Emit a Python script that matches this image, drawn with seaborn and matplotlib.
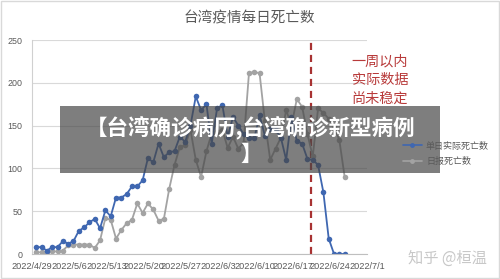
import numpy as np
import pandas as pd
import matplotlib
matplotlib.use("Agg")
import matplotlib.pyplot as plt
import seaborn as sns
from matplotlib.patches import Rectangle
from matplotlib.lines import Line2D

# ---------------- data ----------------
title = "台湾疫情每日死亡数"
series_names = ["单日实际死亡数", "日报死亡数"]
actual_deaths = [8, 8, 4, 8, 8, 15, 12, 15, 27, 31, 37, 41, 30, 51, 44, 66, 66, 70, 79,
                 79, 86, 112, 107, 129, 113, 119, 120, 137, 131, 150, 184, 168, 175, 129,
                 170, 174, 137, 160, 150, 140, 135, 135, 162, 138, 146, 145, 136, 110, 160,
                 132, 129, 111, 110, 104, 72, 18, 0, 0, 0]
reported_deaths = [2, 2, 2, 3, 3, 4, 10, 11, 11, 11, 11, 7, 16, 42, 40, 18, 28, 36, 40,
                   59, 48, 59, 52, 39, 41, 76, 104, 125, 127, 145, 110, 90, 120, 141,
                   143, 145, 124, 137, 123, 130, 211, 213, 211, 155, 110, 123, 136, 168, 150,
                   181, 172, 140, 114, 170, 165, 158, 149, 133, 90]
tick_labels = ["2022/4/29", "2022/5/6", "2022/5/13", "2022/5/20", "2022/5/27",
               "2022/6/3", "2022/6/10", "2022/6/17", "2022/6/24", "2022/7/1"]
tick_days = [0, 7, 14, 21, 28, 35, 42, 49, 56, 63]
y_ticks = [0, 50, 100, 150, 200, 250]
cutoff_day = 52.4
note_text = "一周以内\n实际数据\n尚未稳定"
banner_text = "【台湾确诊病历,台湾确诊新型病例\n】"
watermark = "知乎 @桓温"

# ---------------- style ----------------
blue = "#3F67B1"
gray = "#A3A3A3"
txt_gray = "#595959"
sns.set_theme(style="white")
plt.rcParams['font.family'] = ['Noto Sans CJK SC', 'DejaVu Sans']

W, H = 500, 279
fig = plt.figure(figsize=(W / 100, H / 100), dpi=100)
fig.patch.set_facecolor("white")
fig.patches.append(Rectangle((0.001, 0.002), 0.997, 0.995, transform=fig.transFigure,
                             fill=False, edgecolor="#D9D9D9", linewidth=1.0))

ax = fig.add_axes([32 / W, (H - 254) / H, 335 / W, 214 / H])
n = len(actual_deaths)
days = np.arange(n) + 0.8
df = pd.DataFrame({
    "day": np.concatenate([days, days]),
    "deaths": actual_deaths + reported_deaths,
    "series": [series_names[0]] * n + [series_names[1]] * n,
})

sns.lineplot(data=df[df.series == series_names[1]], x="day", y="deaths",
             color=gray, marker="o", markersize=4, markeredgewidth=0,
             linewidth=1.3, ax=ax, legend=False)
sns.lineplot(data=df[df.series == series_names[0]], x="day", y="deaths",
             color=blue, marker="o", markersize=4, markeredgewidth=0,
             linewidth=1.3, ax=ax, legend=False)

ax.axvline(cutoff_day, color="#A83232", linestyle=(0, (3.2, 2.2)), linewidth=1.6, zorder=1)

ax.set_xlim(0, 63)
ax.set_ylim(0, 250)
ax.set_xticks(tick_days)
ax.set_xticklabels(tick_labels, fontsize=6.6, color=txt_gray, family="Liberation Sans")
ax.set_yticks(y_ticks)
ax.set_yticklabels([str(v) for v in y_ticks], fontsize=6.4, color=txt_gray,
                   family="Liberation Sans")
ax.tick_params(axis="both", length=0)
ax.tick_params(axis="y", pad=7)
ax.tick_params(axis="x", pad=6)
ax.set_xlabel("")
ax.set_ylabel("")
ax.grid(axis="y", color="#D9D9D9", linewidth=0.8)
ax.set_axisbelow(True)
for s in ["top", "right"]:
    ax.spines[s].set_visible(False)
ax.spines["left"].set_color("#D0D0D0")
ax.spines["bottom"].set_color("#BFBFBF")
ax.spines["left"].set_linewidth(0.8)
ax.spines["bottom"].set_linewidth(0.8)

# title
fig.text(249 / W, 1 - 18 / H, title, ha="center", va="center", fontsize=10.5, color=txt_gray)

# red note
fig.text(380 / W, 1 - 80 / H, note_text, ha="center", va="center", fontsize=10.2,
         color="#B83A3A", linespacing=1.45)

# legend
handles = [Line2D([], [], color=blue, marker="o", markersize=3.5, markeredgewidth=0, linewidth=1.2),
           Line2D([], [], color=gray, marker="o", markersize=3.5, markeredgewidth=0, linewidth=1.2)]
leg = fig.legend(handles, series_names, loc="center left",
                 bbox_to_anchor=(398 / W, 1 - 154 / H), frameon=False, fontsize=6.5,
                 handlelength=2.2, handletextpad=0.4, labelspacing=0.75, borderpad=0)
for t in leg.get_texts():
    t.set_color(txt_gray)

# watermark
fig.text(447 / W, 1 - 258 / H, watermark, ha="center", va="center", fontsize=11,
         color="#C8C8C8")

# overlay banner
fig.patches.append(Rectangle((60 / W, (H - 173) / H), 380 / W, 67 / H, transform=fig.transFigure,
                             facecolor=(0.28, 0.28, 0.28), alpha=0.7, edgecolor="none", zorder=5))
fig.text(251 / W, 1 - 140 / H, banner_text, ha="center", va="center", fontsize=15.5,
         color="white", fontweight="bold", linespacing=1.3, zorder=6)

fig.savefig("out.png", dpi=100)
